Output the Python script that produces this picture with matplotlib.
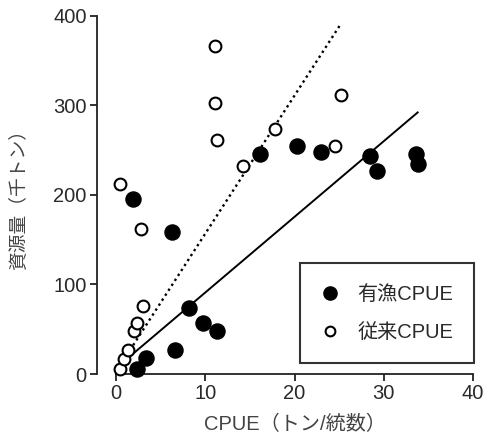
import numpy as np
import matplotlib
matplotlib.use("Agg")
import matplotlib.pyplot as plt
from matplotlib.lines import Line2D

plt.rcParams['font.family'] = ['Liberation Sans', 'Noto Sans CJK JP', 'DejaVu Sans']

# 有漁CPUE (filled)
yugyo_x = [2.4, 3.4, 6.65, 8.15, 9.7, 11.3, 1.9, 6.25, 16.1, 20.3, 23.0, 28.5, 29.2, 33.6, 33.8]
yugyo_y = [5.6, 17.5, 27, 74, 57, 48, 195, 159, 246, 255, 248, 243, 227, 246, 234]

# 従来CPUE (open)
jurai_x = [0.5, 0.9, 1.4, 2.05, 2.4, 3.0, 0.45, 2.8, 11.1, 11.1, 11.3, 14.2, 17.8, 24.5, 25.2]
jurai_y = [6, 17, 27, 48, 57, 76, 212, 162, 366, 302, 261, 232, 274, 254, 312]

# regression lines (endpoints)
fit_yugyo_x = [1.6, 33.8]
fit_yugyo_y = [20, 292]
fit_jurai_x = [1.2, 25.2]
fit_jurai_y = [21, 391]

txt = '#2a2a2a'

fig = plt.figure(figsize=(4.86, 4.41), dpi=100)
ax = fig.add_axes([116 / 486, 1 - 374 / 441, 357 / 486, 358.3 / 441])

ax.plot(fit_jurai_x, fit_jurai_y, color='black', linestyle=(0, (1, 1.5)), linewidth=1.7, clip_on=False)
ax.plot(fit_yugyo_x, fit_yugyo_y, color='black', linestyle='-', linewidth=1.4, clip_on=False)

ax.scatter(jurai_x, jurai_y, s=72, facecolor='white', edgecolor='black', linewidths=1.5, clip_on=False, zorder=3)
ax.scatter(yugyo_x, yugyo_y, s=118, color='black', clip_on=False, zorder=4)

ax.set_xlim(0, 40)
ax.set_ylim(0, 400)
ax.set_xticks([0, 10, 20, 30, 40])
ax.set_yticks([0, 100, 200, 300, 400])

for s in ['top', 'right']:
    ax.spines[s].set_visible(False)
ax.spines['left'].set_position(('outward', 14))
ax.spines['left'].set_bounds(0, 400)
ax.spines['bottom'].set_bounds(0, 40)
for s in ['left', 'bottom']:
    ax.spines[s].set_linewidth(1.3)
    ax.spines[s].set_color('#222222')

ax.tick_params(direction='out', length=5, width=1.3, color='#222222', labelsize=14.5, labelcolor=txt, pad=2)

ax.set_xlabel('CPUE（トン/統数）', fontsize=14.5, color='#444444', labelpad=9)
ax.set_ylabel('資源量（千トン）', fontsize=13.5, color='#444444', labelpad=18)

handles = [
    Line2D([], [], marker='o', linestyle='none', markersize=9.5, markerfacecolor='black', markeredgecolor='black'),
    Line2D([], [], marker='o', linestyle='none', markersize=7, markerfacecolor='white', markeredgecolor='black', markeredgewidth=1.5),
]
leg = ax.legend(handles, ['有漁CPUE', '従来CPUE'], loc='lower left',
                bbox_to_anchor=(0.515, 0.031, 0.488, 0.282), mode='expand',
                fancybox=False, frameon=True, fontsize=14.5, labelspacing=0.95,
                borderpad=1.05, handlelength=0.9, handletextpad=0.9, borderaxespad=0)
leg.get_frame().set_edgecolor('black')
leg.get_frame().set_linewidth(1.5)
for t in leg.get_texts():
    t.set_color(txt)

plt.savefig('out.png', dpi=100)
